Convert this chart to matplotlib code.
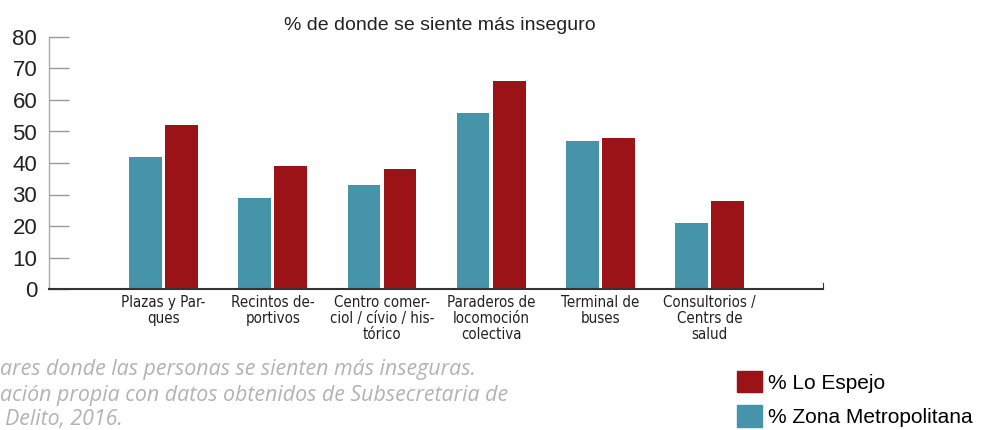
import matplotlib
matplotlib.use("Agg")
import matplotlib.pyplot as plt
import numpy as np
from matplotlib.patches import Patch

# data
lugares = ["Plazas y Par-\nques", "Recintos de-\nportivos", "Centro comer-\nciol / cívio / his-\ntórico",
           "Paraderos de\nlocomoción\ncolectiva", "Terminal de\nbuses", "Consultorios /\nCentrs de\nsalud"]
zona_metropolitana = [42, 29, 33, 56, 47, 21]
lo_espejo = [52, 39, 38, 66, 48, 28]
y_ticks = [0, 10, 20, 30, 40, 50, 60, 70, 80]

titulo = "% de donde se siente más inseguro"
nota = ["ares donde las personas se sienten más inseguras.",
        "ación propia con datos obtenidos de Subsecretaria de",
        "Delito, 2016."]

azul = "#4694AA"
rojo = "#9B1316"

W, H = 985, 430
fig = plt.figure(figsize=(W / 100, H / 100), dpi=100)
ax = fig.add_axes([49 / W, 1 - 289 / H, (823 - 49) / W, 252 / H])

x = np.arange(len(lugares))
w = 0.30
ax.bar(x - 0.165, zona_metropolitana, w, color=azul, label="% Zona Metropolitana")
ax.bar(x + 0.165, lo_espejo, w, color=rojo, label="% Lo Espejo")

ax.set_xlim(-1.05, 6.04)
ax.set_ylim(0, 80)
ax.set_yticks(y_ticks)
ax.set_xticks(x)
ax.set_xticklabels(lugares, family="DejaVu Sans", stretch="condensed",
                   fontsize=10.8, linespacing=1.1, color="#222222")
ax.tick_params(axis="x", length=0, pad=4)
ax.tick_params(axis="y", direction="in", length=14.5, width=1, color="#999999",
               labelsize=16, pad=8.5, labelcolor="#222222")
for lab in ax.get_yticklabels():
    lab.set_family("Liberation Sans")

ax.spines["top"].set_visible(False)
ax.spines["left"].set_color("#aaaaaa")
ax.spines["left"].set_linewidth(1)
ax.spines["bottom"].set_color("#333333")
ax.spines["bottom"].set_linewidth(1.5)
ax.spines["right"].set_color("#333333")
ax.spines["right"].set_bounds(0, 2)

fig.text(440 / W, 1 - 25 / H, titulo, ha="center", va="center",
         fontsize=14, family="Liberation Sans", color="#222222")

for i, linea in enumerate(nota):
    fig.text(0 if i < 2 else 5 / W, 1 - (370 + 25 * i) / H, linea, ha="left", va="center",
             fontsize=15.4, family="Open Sans", style="italic", color="#b3b3b3")

handles = [Patch(color=rojo, label="% Lo Espejo"), Patch(color=azul, label="% Zona Metropolitana")]
fig.legend(handles=handles, loc="upper left", bbox_to_anchor=(737 / W, 1 - 371 / H),
           frameon=False, borderpad=0, borderaxespad=0, handlelength=1.2, handleheight=1.2,
           handletextpad=0.3, labelspacing=0.6,
           prop={"family": "Liberation Sans", "size": 15})

fig.savefig("out.png", dpi=100)
